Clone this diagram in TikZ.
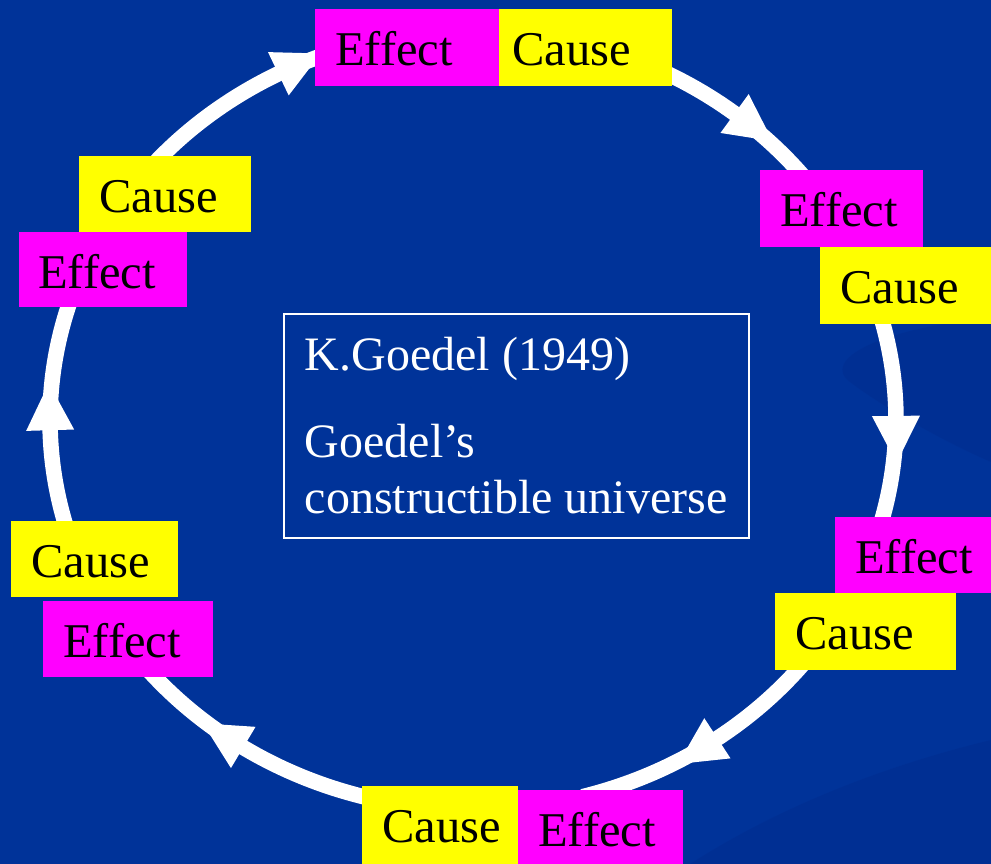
\documentclass[tikz,border=0pt]{standalone}
\usepackage{fontspec}
\setmainfont{Liberation Serif}
\usetikzlibrary{calc}
\definecolor{bgblue}{RGB}{0,51,153}
\definecolor{bgdark}{RGB}{0,42,138}
\definecolor{effmag}{RGB}{255,0,255}
\definecolor{causeyel}{RGB}{255,255,0}
\newcommand{\boxfont}{\fontsize{48.5}{56}\selectfont}
\newcommand{\centerfont}{\fontsize{48}{56}\selectfont}
\newcommand{\headat}[1]{%
  \pgfmathsetmacro{\hdang}{atan2(-390*cos(#1), 423*sin(#1))}%
  \path ($(O)+(#1:423pt and 390pt)$) coordinate (hp);%
  \fill[headtip, shift={(hp)}, rotate=\hdang] (0pt,-24pt) -- (47pt,0pt) -- (0pt,24pt) -- cycle;%
}
\begin{document}
\begin{tikzpicture}[x=1pt, y=-1pt,
  ring/.style={draw=white, line width=15.5pt},
  headtip/.style={fill=white},
  tagbox/.style={anchor=north west, inner ysep=0pt, inner xsep=20pt, align=left,
                 text height=56pt, text depth=21pt, font=\boxfont, text=black},
  effectbox/.style={tagbox, fill=effmag},
  causebox/.style={tagbox, fill=causeyel},
  centerbox/.style={draw=white, line width=1.5pt, text=white, font=\centerfont,
                    align=left, anchor=north west, minimum width=465pt,
                    minimum height=224pt, inner sep=0pt},
  swoosh/.style={fill=bgdark, opacity=0.35}
]
% background
\fill[bgblue] (0,0) rectangle (991,864);
\useasboundingbox (0,0) rectangle (991,864);
\fill[swoosh] (991,318) .. controls (880,328) and (820,360) .. (850,382)
              .. controls (880,405) and (940,440) .. (991,462) -- cycle;
\fill[swoosh] (690,864) .. controls (790,800) and (900,762) .. (991,740) -- (991,864) -- cycle;

% ring geometry
\coordinate (O) at (473,420);
\coordinate (a1) at ($(O)+(65:423pt and 390pt)$);
\coordinate (a2) at ($(O)+(17:423pt and 390pt)$);
\coordinate (a3) at ($(O)+(-37:423pt and 390pt)$);
\coordinate (a4) at ($(O)+(-100:423pt and 390pt)$);
\coordinate (a5) at ($(O)+(-162:423pt and 390pt)$);
\coordinate (a6) at ($(O)+(140:423pt and 390pt)$);

% connectors (clockwise, cause -> effect)
\draw[ring] (a1) arc[start angle=65, end angle=37, x radius=423pt, y radius=390pt];
\draw[ring] (a2) arc[start angle=17, end angle=-17, x radius=423pt, y radius=390pt];
\draw[ring] (a3) arc[start angle=-37, end angle=-75, x radius=423pt, y radius=390pt];
\draw[ring] (a4) arc[start angle=-100, end angle=-142, x radius=423pt, y radius=390pt];
\draw[ring] (a5) arc[start angle=-162, end angle=-200, x radius=423pt, y radius=390pt];
\draw[ring] (a6) arc[start angle=140, end angle=110, x radius=423pt, y radius=390pt];

% arrowheads
\headat{51.8}
\headat{0.6}
\headat{-54.7}
\headat{-122.9}
\headat{181.5}
\headat{117.4}

% boxes
\node[effectbox, text width=144pt] (tE) at (315,9) {Effect};
\node[causebox, inner xsep=13pt, text width=147pt] (tC) at (499,9) {Cause};
\node[effectbox, text width=123pt] (ruE) at (760,170) {Effect};
\node[causebox, text width=131pt] (ruC) at (820,247) {Cause};
\node[effectbox, text width=116pt, text depth=20pt] (rlE) at (835,517) {Effect};
\node[causebox, text width=141pt] (rlC) at (775,593) {Cause};
\node[causebox, text width=116pt, text depth=22pt] (bC) at (362,786) {Cause};
\node[effectbox, text width=125pt, text depth=18pt] (bE) at (518,790) {Effect};
\node[causebox, text width=127pt, text depth=20pt] (llC) at (11,521) {Cause};
\node[effectbox, text width=130pt, text depth=20pt] (llE) at (43,601) {Effect};
\node[causebox, text width=132pt, text depth=20pt] (luC) at (79,156) {Cause};
\node[effectbox, inner xsep=19pt, text width=130pt, text depth=19pt] (luE) at (19,232) {Effect};

% centre box
\node[centerbox] (ctr) at (283,313) {K.Goedel (1949)\\[31pt]Goedel’s\\constructible universe};
\end{tikzpicture}
\end{document}
